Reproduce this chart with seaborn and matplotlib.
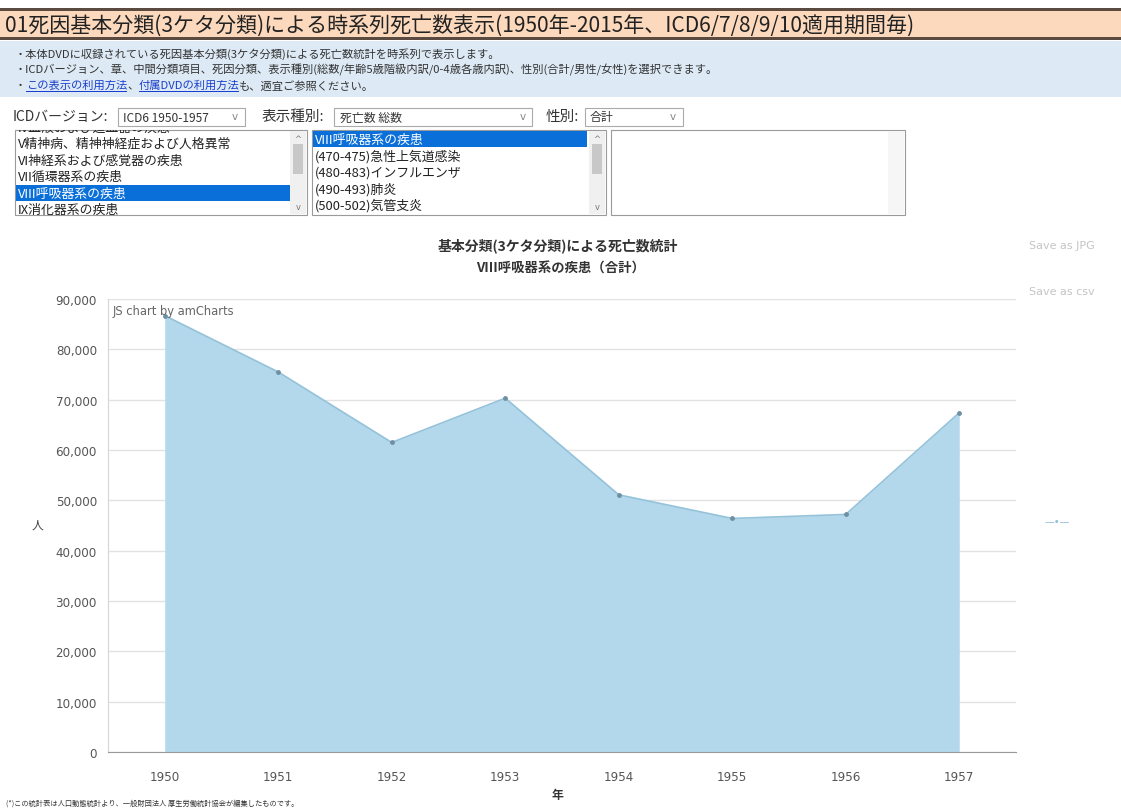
import numpy as np
import pandas as pd
import seaborn as sns
import matplotlib.pyplot as plt
from matplotlib.patches import Rectangle

# data
years = [1950, 1951, 1952, 1953, 1954, 1955, 1956, 1957]
deaths = [86700, 75500, 61500, 70300, 51100, 46400, 47200, 67400]
y_ticks = [0, 10000, 20000, 30000, 40000, 50000, 60000, 70000, 80000, 90000]

chapters = ['IV血液および造血器の疾患', 'V精神病、精神神経症および人格異常',
            'VI神経系および感覚器の疾患', 'VII循環器系の疾患',
            'VIII呼吸器系の疾患', 'IX消化器系の疾患']
causes = ['VIII呼吸器系の疾患', '(470-475)急性上気道感染', '(480-483)インフルエンザ',
          '(490-493)肺炎', '(500-502)気管支炎']

frame = pd.DataFrame({'year': years, 'deaths': deaths})

sns.set_style('white')
plt.rcParams['font.family'] = ['Noto Sans CJK JP', 'DejaVu Sans']

W, H = 1121, 812
fig = plt.figure(figsize=(W / 100, H / 100), dpi=100)
renderer = fig.canvas.get_renderer()


def px(x, y):
    return x / W, 1 - y / H


def box(x0, y0, x1, y1, **kw):
    fig.patches.append(Rectangle(px(x0, y1), (x1 - x0) / W, (y1 - y0) / H,
                                 transform=fig.transFigure, **kw))


def txt(x, y, s, **kw):
    kw.setdefault('va', 'center')
    return fig.text(*px(x, y), s, **kw)


def runs(x, y, parts, size):
    # place text pieces one after another, underlining the links
    for s, col, link in parts:
        t = txt(x, y, s, fontsize=size, color=col)
        w = t.get_window_extent(renderer).width
        if link:
            box(x, y + 6, x + w, y + 7, facecolor=col, edgecolor='none')
        x += w


# header bar
box(0, 10, W, 40, facecolor='#fcd9bc', edgecolor='none')
box(0, 9, W, 12, facecolor='#5a4a40', edgecolor='none')
box(0, 38, W, 41, facecolor='#5a4a40', edgecolor='none')
txt(5, 26, '01死因基本分類(3ケタ分類)による時系列死亡数表示(1950年-2015年、ICD6/7/8/9/10適用期間毎)',
    fontsize=15.1, color='#222222')

# info box
box(0, 42, W, 98, facecolor='#ddeaf5', edgecolor='none')
fs = 8.1
txt(15, 54, '・本体DVDに収録されている死因基本分類(3ケタ分類)による死亡数統計を時系列で表示します。',
    fontsize=fs, color='#333333')
txt(15, 70, '・ICDバージョン、章、中間分類項目、死因分類、表示種別(総数/年齢5歳階級内訳/0-4歳各歳内訳)、性別(合計/男性/女性)を選択できます。',
    fontsize=fs, color='#333333')
runs(15, 86, [('・', '#333333', False), ('この表示の利用方法', '#1a3fcc', True),
              ('、', '#333333', False), ('付属DVDの利用方法', '#1a3fcc', True),
              ('も、適宜ご参照ください。', '#333333', False)], fs)

# selection controls
txt(13, 117, 'ICDバージョン:', fontsize=10, color='#333333')
box(118, 109, 245, 127, facecolor='white', edgecolor='#aaaaaa', linewidth=0.8)
txt(123, 118, 'ICD6 1950-1957', fontsize=8.6, color='#333333')
txt(232, 117, 'v', fontsize=7.5, color='#888888', family=['DejaVu Sans'])
txt(262, 117, '表示種別:', fontsize=10.5, color='#333333')
box(334, 109, 532, 127, facecolor='white', edgecolor='#aaaaaa', linewidth=0.8)
txt(340, 118, '死亡数 総数', fontsize=8.6, color='#333333')
txt(520, 117, 'v', fontsize=7.5, color='#888888', family=['DejaVu Sans'])
txt(546, 117, '性別:', fontsize=10.5, color='#333333')
box(585, 109, 683, 127, facecolor='white', edgecolor='#aaaaaa', linewidth=0.8)
txt(590, 118, '合計', fontsize=8.6, color='#333333')
txt(670, 117, 'v', fontsize=7.5, color='#888888', family=['DejaVu Sans'])

# list boxes
for x0, x1, scroll in [(15, 307, True), (312, 606, True), (611, 905, False)]:
    box(x0, 131, x1, 216, facecolor='white', edgecolor='#9a9a9a', linewidth=0.8)
    if scroll:
        box(x1 - 17, 132, x1 - 1, 215, facecolor='#f0f0f0', edgecolor='none')
        box(x1 - 14, 145, x1 - 4, 175, facecolor='#c8c8c8', edgecolor='none')
        txt(x1 - 9, 139, '^', fontsize=6, color='#777777', ha='center', family=['DejaVu Sans'])
        txt(x1 - 9, 208, 'v', fontsize=6, color='#777777', ha='center', family=['DejaVu Sans'])
    else:
        box(x1 - 17, 132, x1 - 1, 215, facecolor='#f6f6f6', edgecolor='none')

row_h = 16.5
clip = Rectangle(px(15, 216), 292 / W, 85 / H, transform=fig.transFigure)
for i, name in enumerate(chapters):
    yc = 128 + i * row_h
    if name.startswith('VIII'):
        box(16, yc - 8, 290, yc + 8, facecolor='#0a6fd8', edgecolor='none')
        col = 'white'
    else:
        col = '#222222'
    t = txt(18, yc, name, fontsize=9.3, color=col)
    t.set_clip_path(clip)
for i, name in enumerate(causes):
    yc = 140 + i * row_h
    if i == 0:
        box(313, yc - 8, 587, yc + 8, facecolor='#0a6fd8', edgecolor='none')
        col = 'white'
    else:
        col = '#222222'
    txt(315, yc, name, fontsize=9.3, color=col)

# chart titles and side links
txt(558, 246, '基本分類(3ケタ分類)による死亡数統計', fontsize=10, fontweight='bold',
    ha='center', color='#333333')
txt(560, 268, 'VIII呼吸器系の疾患（合計）', fontsize=9.6, fontweight='bold',
    ha='center', color='#333333')
txt(1029, 246, 'Save as JPG', fontsize=8, color='#c4c4c4', family=['DejaVu Sans'])
txt(1029, 292, 'Save as csv', fontsize=8, color='#c4c4c4', family=['DejaVu Sans'])

# chart
ax = fig.add_axes([108 / W, 1 - 753 / H, 908 / W, 453 / H])
ax.fill_between(frame.year, 0, frame.deaths, color='#b3d8eb', linewidth=0)
sns.lineplot(data=frame, x='year', y='deaths', color='#94c2da', linewidth=1.2,
             marker='o', markersize=3.5, markerfacecolor='#6f8fa3',
             markeredgewidth=0, ax=ax)
ax.set_xlim(years[0] - 0.5, years[-1] + 0.5)
ax.set_ylim(0, 90000)
ax.set_xticks(years)
ax.set_yticks(y_ticks)
ax.set_yticklabels([f'{v:,}' for v in y_ticks])
ax.yaxis.grid(True, color='#e2e2e2', linewidth=1)
ax.set_axisbelow(True)
for s in ['top', 'right']:
    ax.spines[s].set_visible(False)
ax.spines['left'].set_color('#d5d5d5')
ax.spines['bottom'].set_color('#999999')
for lab in ax.get_xticklabels() + ax.get_yticklabels():
    lab.set_family(['DejaVu Sans'])
ax.tick_params(axis='both', labelsize=8.6, colors='#555555', length=4,
               color='#cccccc', pad=9)
ax.tick_params(axis='y', length=6, pad=2)
ax.set_xlabel('')
ax.set_ylabel('')
ax.text(0.005, 0.988, 'JS chart by amCharts', transform=ax.transAxes, fontsize=8.3,
        color='#666666', va='top', family=['DejaVu Sans'])

txt(37, 525, '人', fontsize=8.5, color='#444444', ha='center')
txt(557, 796, '年', fontsize=8.5, fontweight='bold', color='#333333', ha='center')
txt(1057, 522, '—•—', fontsize=7, color='#8fbfd8', ha='center', family=['DejaVu Sans'])
txt(6, 804, '(*)この統計表は人口動態統計より、一般財団法人 厚生労働統計協会が編集したものです。',
    fontsize=5.2, color='#333333')

fig.savefig('out.png', dpi=100)
